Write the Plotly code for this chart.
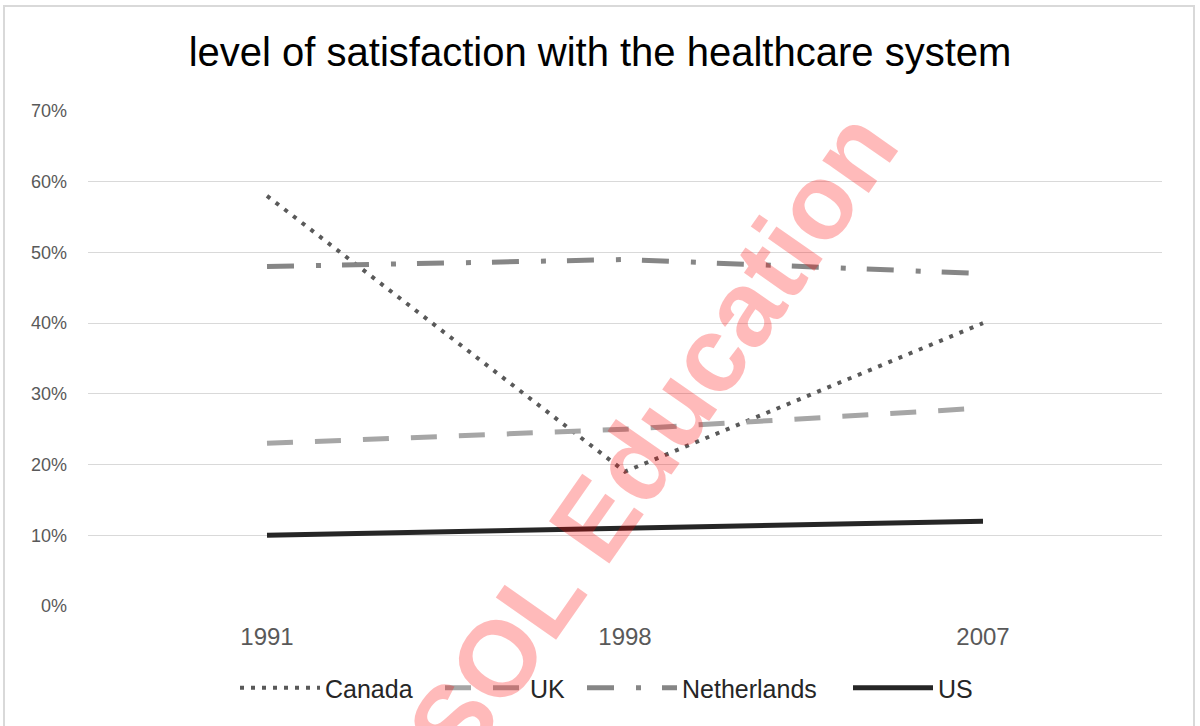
import plotly.graph_objects as go

years = ["1991", "1998", "2007"]
canada = [0.58, 0.19, 0.40]
uk = [0.23, 0.25, 0.28]
netherlands = [0.48, 0.49, 0.47]
us = [0.10, 0.11, 0.12]

y_ticks = [0, 0.1, 0.2, 0.3, 0.4, 0.5, 0.6, 0.7]
y_labels = ["0%", "10%", "20%", "30%", "40%", "50%", "60%", "70%"]

W, H = 1200, 726
L, R, T, B = 88, 38, 111, 120
pw, ph = W - L - R, H - T - B

def px(x):
    return (x - L) / pw

def py(y):
    return (H - B - y) / ph

narrow = "Liberation Sans Narrow, Arial Narrow, Liberation Sans, Arial"
regular = "Liberation Sans, Arial"

fig = go.Figure()
fig.add_trace(go.Scatter(x=years, y=canada, name="Canada", mode="lines", legend="legend",
                         line=dict(color="#595959", width=4, dash="4px,7px")))
fig.add_trace(go.Scatter(x=years, y=uk, name="UK", mode="lines", legend="legend2",
                         line=dict(color="#a6a6a6", width=5, dash="26px,22px")))
fig.add_trace(go.Scatter(x=years, y=netherlands, name="Netherlands", mode="lines", legend="legend3",
                         line=dict(color="#868686", width=5, dash="27px,22px,5px,21px")))
fig.add_trace(go.Scatter(x=years, y=us, name="US", mode="lines", legend="legend4",
                         line=dict(color="#262626", width=5)))

def leg(left_px, iw=80):
    return dict(orientation="h", x=px(left_px), xanchor="left", xref="paper",
                y=py(688), yanchor="middle", bgcolor="rgba(0,0,0,0)",
                font=dict(family=narrow, size=25, color="#262626"),
                itemwidth=iw)

fig.update_layout(
    width=W, height=H,
    margin=dict(l=L, r=R, t=T, b=B),
    paper_bgcolor="white", plot_bgcolor="white",
    title=dict(text="level of satisfaction with the healthcare system",
               x=0.5, xref="container", xanchor="center",
               y=1 - 52 / H, yref="container", yanchor="middle",
               font=dict(family=regular, size=40, color="#000000")),
    xaxis=dict(type="category", range=[-0.5, 2.5], showgrid=False, zeroline=False,
               showline=False, ticks="", ticklabelstandoff=14,
               tickfont=dict(family=regular, size=24, color="#595959")),
    yaxis=dict(range=[0, 0.7], tickvals=y_ticks, ticktext=y_labels,
               showgrid=True, gridcolor="#d9d9d9", gridwidth=1.3, zeroline=False,
               showline=False, ticks="", ticklabelstandoff=20,
               tickfont=dict(family=narrow, size=18, color="#595959")),
    legend=leg(235),
    legend2=leg(440),
    legend3=leg(582, 90),
    legend4=leg(848),
    showlegend=True,
)

fig.add_shape(type="rect", xref="paper", yref="paper",
              x0=px(4), x1=px(1194), y0=py(740), y1=py(6),
              line=dict(color="#d9d9d9", width=2), fillcolor="rgba(0,0,0,0)", layer="below")

fig.add_annotation(text="<b>SOL Education</b>", xref="paper", yref="paper",
                   x=px(652), y=py(438), xanchor="center", yanchor="middle",
                   textangle=-55, showarrow=False,
                   font=dict(family=regular, size=107, color="rgba(255,0,0,0.27)"))

fig.write_html("out.html", config={"displayModeBar": False},
               post_script="document.body.style.margin='0';")
